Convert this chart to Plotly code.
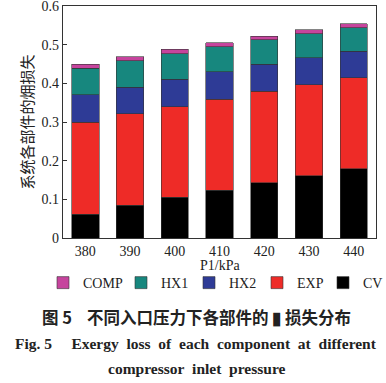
import plotly.graph_objects as go

categories = ["380", "390", "400", "410", "420", "430", "440"]
cv = [0.062, 0.085, 0.105, 0.124, 0.143, 0.161, 0.179]
exp_ = [0.238, 0.236, 0.235, 0.235, 0.236, 0.236, 0.235]
hx2 = [0.070, 0.069, 0.071, 0.071, 0.071, 0.069, 0.069]
hx1 = [0.069, 0.068, 0.066, 0.065, 0.063, 0.062, 0.061]
comp = [0.011, 0.011, 0.011, 0.010, 0.009, 0.011, 0.010]
y_ticks = [0, 0.1, 0.2, 0.3, 0.4, 0.5, 0.6]
y_tick_text = ["0", "0.1", "0.2", "0.3", "0.4", "0.5", "0.6"]

series = [
    ("CV", cv, "#000000", "legend3"),
    ("EXP", exp_, "#ee2b27", "legend2"),
    ("HX2", hx2, "#2e3b96", "legend2"),
    ("HX1", hx1, "#17877e", "legend2"),
    ("COMP", comp, "#c6449d", "legend"),
]

serif = "Liberation Serif, Times New Roman, Noto Sans CJK SC, serif"
NB = "\u00a0"

fig = go.Figure()
for name, vals, col, lg in series:
    fig.add_trace(go.Bar(
        x=categories, y=vals, name=name, legend=lg,
        marker=dict(color=col, line=dict(color="#333333", width=0.6)),
    ))

def legend_at(px, ew):
    return dict(
        orientation="h", traceorder="reversed",
        x=px / 386, xanchor="left", xref="container",
        y=0.261, yanchor="middle", yref="container",
        bgcolor="rgba(0,0,0,0)",
        font=dict(family=serif, size=14, color="#222222"),
        itemwidth=30, tracegroupgap=0,
        entrywidth=ew, entrywidthmode="pixels",
    )

fig.update_layout(
    width=386, height=383,
    margin=dict(l=63, r=10, t=6, b=145, autoexpand=False),
    barmode="stack", bargap=0.39,
    plot_bgcolor="white", paper_bgcolor="white",
    font=dict(family=serif, size=14, color="#222222"),
    showlegend=True,
    legend=legend_at(43, 0),
    legend2=legend_at(121, 23),
    legend3=legend_at(323, 0),
    xaxis=dict(
        type="category", showline=True, linecolor="#333333", linewidth=1.2,
        mirror=True, ticks="", tickfont=dict(family=serif, size=14),
    ),
    yaxis=dict(
        range=[0, 0.6001], tickvals=y_ticks, ticktext=y_tick_text,
        showline=True, linecolor="#333333",
        linewidth=1.2, mirror=True, ticks="inside", ticklen=4,
        tickcolor="#333333", showgrid=False, zeroline=False,
        ticklabeloverflow="allow",
        tickfont=dict(family=serif, size=14),
        title=dict(text="系统各部件的㶲损失", font=dict(family="Noto Sans CJK SC, serif", size=15), standoff=4),
    ),
)

cx = (196 - 63) / 313
def py(p):
    return (238 - p) / 232

fig.add_annotation(
    text="P1/kPa",
    xref="paper", yref="paper", x=0.5, y=py(265), xanchor="center", yanchor="middle",
    showarrow=False, font=dict(family=serif, size=14, color="#222222"),
)
fig.add_annotation(
    text="<b>图 5" + NB * 4 + "不同入口压力下各部件的 ▮ 损失分布</b>",
    xref="paper", yref="paper", x=cx, y=py(317), xanchor="center", yanchor="middle",
    showarrow=False, font=dict(family="Noto Sans CJK SC, sans-serif", size=16.5, color="#222222"),
)
fig.add_annotation(
    text="<b>Fig. 5" + NB * 5 + "Exergy" + NB * 2 + "loss" + NB * 2 + "of" + NB * 2 + "each" + NB * 2
         + "component" + NB * 2 + "at" + NB * 2 + "different</b>",
    xref="paper", yref="paper", x=cx, y=py(343), xanchor="center", yanchor="middle",
    showarrow=False, font=dict(family=serif, size=15.5, color="#222222"),
)
fig.add_annotation(
    text="<b>compressor" + NB * 2 + "inlet" + NB * 2 + "pressure</b>",
    xref="paper", yref="paper", x=cx, y=py(368), xanchor="center", yanchor="middle",
    showarrow=False, font=dict(family=serif, size=15.5, color="#222222"),
)

fig.write_html("out.html", config={"displayModeBar": False},
               post_script="document.body.style.margin='0';")
